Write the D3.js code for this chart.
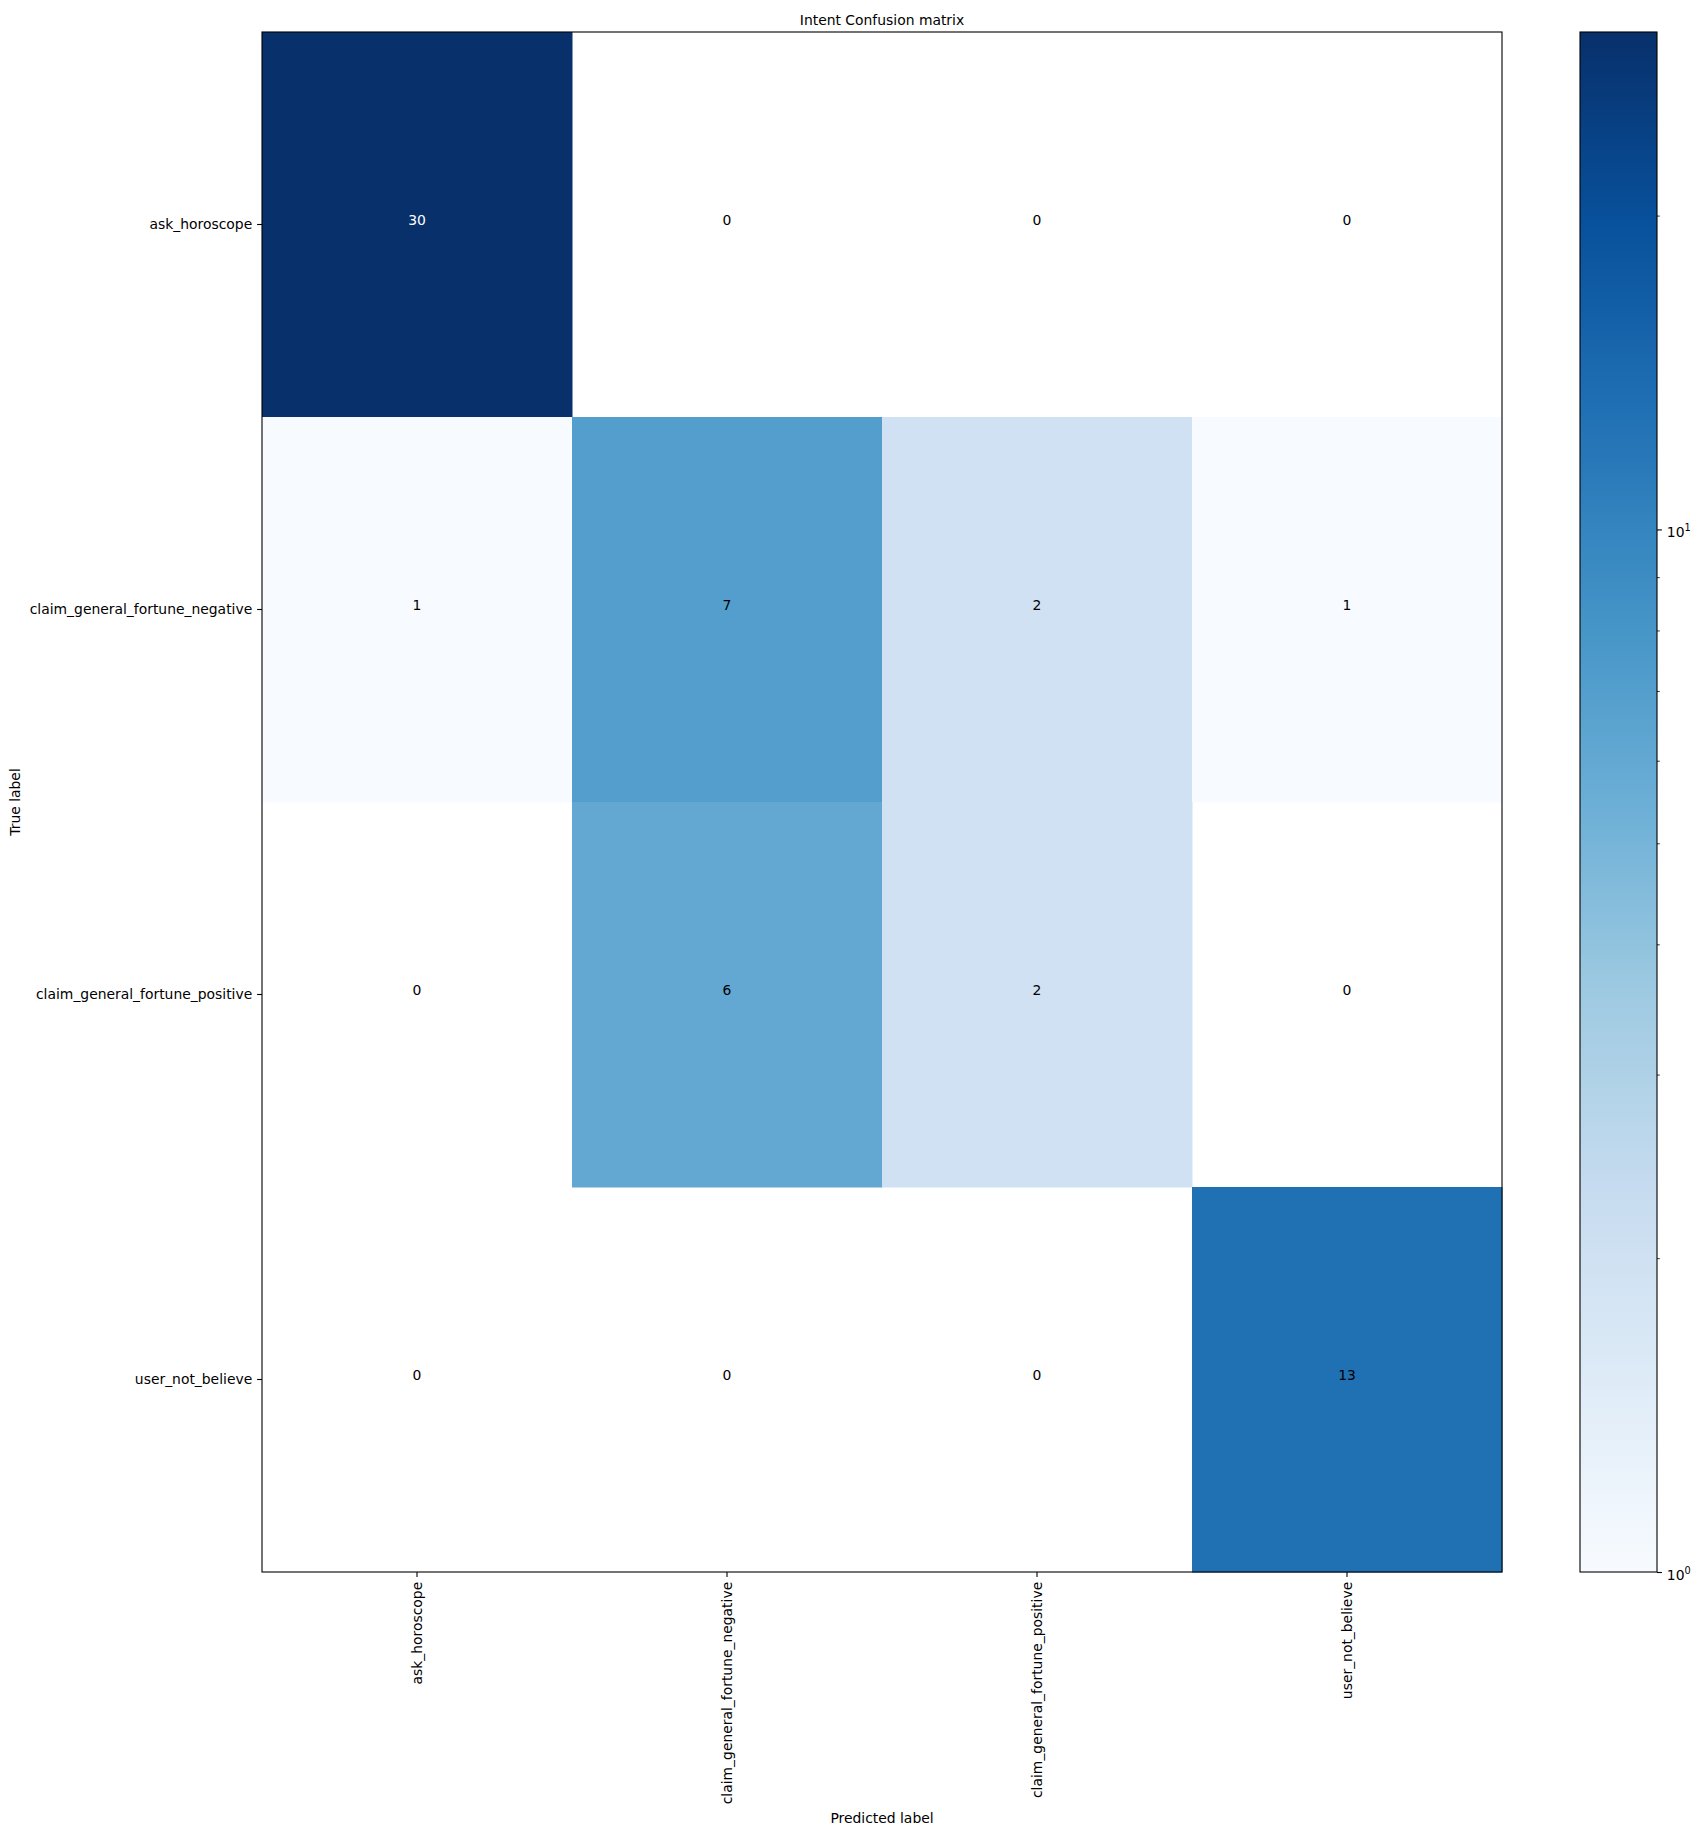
<!DOCTYPE html>
<html>
<head>
<meta charset="utf-8">
<script src="https://cdn.jsdelivr.net/npm/d3@7"></script>
<style>
  html, body { margin: 0; padding: 0; background: #fff; }
  text { font-family: "DejaVu Sans", sans-serif; }
</style>
</head>
<body>
<svg id="chart" width="1701" height="1834"></svg>
<script>
// ---- data ----
const labels = ["ask_horoscope", "claim_general_fortune_negative", "claim_general_fortune_positive", "user_not_believe"];
const row_ask_horoscope = [30, 0, 0, 0];
const row_claim_negative = [1, 7, 2, 1];
const row_claim_positive = [0, 6, 2, 0];
const row_user_not_believe = [0, 0, 0, 13];
const matrix = [row_ask_horoscope, row_claim_negative, row_claim_positive, row_user_not_believe];
const cbMajorTicks = [1, 10];
const cbMinorTicks = [2, 3, 4, 5, 6, 7, 8, 9, 20];
const title = "Intent Confusion matrix";
const xTitle = "Predicted label";
const yTitle = "True label";

// ---- layout ----
const svg = d3.select("#chart");
const L = 262, T = 32, R = 1502, B = 1572;
const cbL = 1580, cbR = 1657;
const fs = 13.9;
const tickLen = 4.9, tickPad = 4.9;

const vmax = d3.max(matrix.flat());
const vmin = 1;

// matplotlib "Blues" (linear segmented from ColorBrewer stops)
const bluesStops = ["#f7fbff", "#deebf7", "#c6dbef", "#9ecae1", "#6baed6", "#4292c6", "#2171b5", "#08519c", "#08306b"];
const bluesInterp = d3.scaleLinear()
  .domain(d3.range(bluesStops.length).map(i => i / (bluesStops.length - 1)))
  .range(bluesStops)
  .interpolate(d3.interpolateRgb)
  .clamp(true);
const norm = d3.scaleLog().domain([vmin, vmax]).range([0, 1]).clamp(true);
const color = v => bluesInterp(norm(v));

const x = d3.scaleBand().domain(d3.range(labels.length)).range([L, R]);
const y = d3.scaleBand().domain(d3.range(labels.length)).range([T, B]);

// cells (zeros are masked by log norm -> white)
const cells = [];
matrix.forEach((row, i) => row.forEach((v, j) => cells.push({ i, j, v })));

svg.append("g").selectAll("rect").data(cells.filter(d => d.v > 0)).join("rect")
  .attr("x", d => x(d.j)).attr("y", d => y(d.i))
  .attr("width", x.bandwidth() + 0.5).attr("height", y.bandwidth() + 0.5)
  .attr("fill", d => color(d.v));

// cell text
const thresh = vmax / 2;
svg.append("g").selectAll("text").data(cells).join("text")
  .attr("x", d => x(d.j) + x.bandwidth() / 2)
  .attr("y", d => y(d.i) + y.bandwidth() / 2 + 0.5)
  .attr("text-anchor", "middle")
  .attr("font-size", fs)
  .attr("fill", d => d.v > thresh ? "#ffffff" : "#000000")
  .text(d => d.v);

// frame
svg.append("rect").attr("x", L).attr("y", T).attr("width", R - L).attr("height", B - T)
  .attr("fill", "none").attr("stroke", "#000").attr("stroke-width", 1.1);

// axes
const yAxis = d3.axisLeft(y).tickSize(tickLen).tickPadding(tickPad).tickSizeOuter(0)
  .tickFormat(i => labels[i]);
const gy = svg.append("g").attr("transform", `translate(${L},0)`).call(yAxis);
gy.select(".domain").remove();
gy.selectAll("text").attr("font-size", fs).attr("font-family", "DejaVu Sans").attr("fill", "#000");
gy.selectAll("line").attr("stroke", "#000").attr("stroke-width", 1.1);

const xAxis = d3.axisBottom(x).tickSize(tickLen).tickPadding(tickPad).tickSizeOuter(0)
  .tickFormat(i => labels[i]);
const gx = svg.append("g").attr("transform", `translate(0,${B})`).call(xAxis);
gx.select(".domain").remove();
gx.selectAll("line").attr("stroke", "#000").attr("stroke-width", 1.1);
gx.selectAll("text")
  .attr("font-size", fs).attr("font-family", "DejaVu Sans").attr("fill", "#000")
  .attr("transform", `translate(0,${tickLen + tickPad}) rotate(-90)`)
  .attr("x", 0).attr("y", 0).attr("dy", null)
  .attr("text-anchor", "end").attr("dominant-baseline", "central");

// titles
svg.append("text").attr("x", (L + R) / 2).attr("y", 24.5)
  .attr("text-anchor", "middle").attr("font-size", fs).text(title);
svg.append("text").attr("x", (L + R) / 2).attr("y", 1823)
  .attr("text-anchor", "middle").attr("font-size", fs).text(xTitle);
svg.append("text").attr("transform", `translate(20,${(T + B) / 2}) rotate(-90)`)
  .attr("text-anchor", "middle").attr("font-size", fs).text(yTitle);

// colorbar
const cbScale = d3.scaleLog().domain([vmin, vmax]).range([B, T]);
const defs = svg.append("defs");
const grad = defs.append("linearGradient").attr("id", "cbgrad")
  .attr("x1", 0).attr("y1", 1).attr("x2", 0).attr("y2", 0);
d3.range(0, 1.0001, 1 / 64).forEach(t => {
  grad.append("stop").attr("offset", t).attr("stop-color", bluesInterp(t));
});
svg.append("rect").attr("x", cbL).attr("y", T).attr("width", cbR - cbL).attr("height", B - T)
  .attr("fill", "url(#cbgrad)").attr("stroke", "#000").attr("stroke-width", 1.1);

const cbAxis = d3.axisRight(cbScale).tickValues(cbMajorTicks).tickSize(tickLen).tickPadding(tickPad)
  .tickSizeOuter(0).tickFormat(() => "");
const gcb = svg.append("g").attr("transform", `translate(${cbR},0)`).call(cbAxis);
gcb.select(".domain").remove();
gcb.selectAll("line").attr("stroke", "#000").attr("stroke-width", 1.1);
gcb.selectAll(".tick text").each(function (d) {
  const t = d3.select(this).attr("font-size", fs).attr("fill", "#000").attr("dy", null).attr("y", 7.5);
  t.append("tspan").text("10");
  t.append("tspan").attr("font-size", fs * 0.7).attr("dy", -6).text(Math.round(Math.log10(d)));
});
const cbMinor = d3.axisRight(cbScale).tickValues(cbMinorTicks).tickSize(2.8).tickSizeOuter(0).tickFormat(() => "");
const gcbm = svg.append("g").attr("transform", `translate(${cbR},0)`).call(cbMinor);
gcbm.select(".domain").remove();
gcbm.selectAll("line").attr("stroke", "#000").attr("stroke-width", 0.8);
</script>
</body>
</html>
